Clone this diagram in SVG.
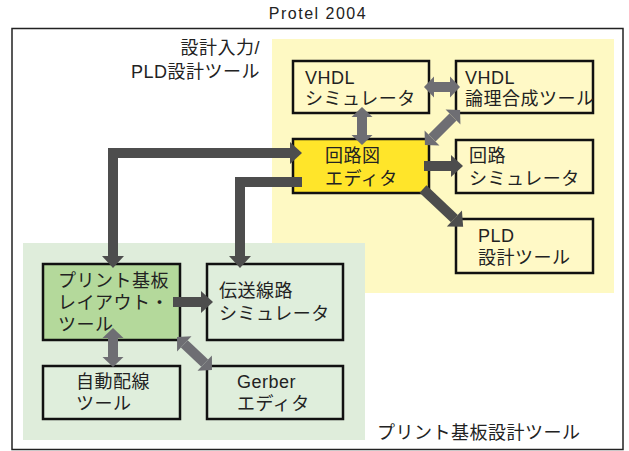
<svg xmlns="http://www.w3.org/2000/svg" width="629" height="451" viewBox="0 0 629 451">
<style>
text{font-family:"Liberation Sans","Noto Sans CJK JP",sans-serif;font-size:18px;fill:#222;letter-spacing:0.5px}
.box{stroke:#111;stroke-width:2.5}
.yb{fill:#FFF9C6}
.gb{fill:#DFEEDC}
.dk{fill:none;stroke:#4D4D4D;stroke-width:10;stroke-linejoin:miter}
.gr{fill:none;stroke:#6E6E73;stroke-width:10}
</style>
<defs>
<marker id="ad" markerUnits="userSpaceOnUse" markerWidth="12" markerHeight="22" refX="0" refY="11" orient="auto-start-reverse" overflow="visible"><path d="M0,0 L12,11 L0,22 Z" fill="#4D4D4D"/></marker>
<marker id="ag" markerUnits="userSpaceOnUse" markerWidth="10" markerHeight="21" refX="0" refY="10.5" orient="auto-start-reverse" overflow="visible"><path d="M0,0 L10,10.5 L0,21 Z" fill="#6E6E73"/></marker>
</defs>
<rect width="629" height="451" fill="#fff"/>
<text x="318" y="19" text-anchor="middle" style="font-size:16px;letter-spacing:1.5px">Protel 2004</text>
<rect x="12" y="28.5" width="611" height="421" fill="none" stroke="#222" stroke-width="1.5"/>
<rect x="272" y="39" width="342" height="254" fill="#FEF9C3"/>
<rect x="23" y="243" width="342" height="197" fill="#DFEDDB"/>
<text x="260" y="54" text-anchor="end">設計入力/</text>
<text x="260" y="78" text-anchor="end">PLD設計ツール</text>
<text x="377" y="439">プリント基板設計ツール</text>
<g id="vhdl-sim"><rect class="box yb" x="293" y="61" width="136" height="52"/><text x="305" y="84">VHDL</text><text x="305" y="105">シミュレータ</text></g>
<g id="vhdl-synth"><rect class="box yb" x="456" y="61" width="137" height="52"/><text x="465" y="84">VHDL</text><text x="465" y="105">論理合成ツール</text></g>
<g id="schematic"><rect class="box" fill="#FFE52A" x="293" y="139" width="136" height="54"/><text x="325" y="162">回路図</text><text x="325" y="185">エディタ</text></g>
<g id="circuit-sim"><rect class="box yb" x="456" y="140" width="137" height="53"/><text x="469" y="162">回路</text><text x="469" y="185">シミュレータ</text></g>
<g id="pld"><rect class="box yb" x="456" y="219" width="137" height="54"/><text x="478" y="242">PLD</text><text x="478" y="264">設計ツール</text></g>
<g id="pcb"><rect class="box" fill="#B4D99B" x="43" y="264" width="137" height="76"/><text x="58" y="287">プリント基板</text><text x="58" y="309">レイアウト・</text><text x="58" y="331">ツール</text></g>
<g id="tline"><rect class="box gb" x="207" y="264" width="136" height="76"/><text x="219" y="297">伝送線路</text><text x="219" y="320">シミュレータ</text></g>
<g id="autoroute"><rect class="box gb" x="43" y="366" width="137" height="53"/><text x="76" y="388">自動配線</text><text x="76" y="410">ツール</text></g>
<g id="gerber"><rect class="box gb" x="207" y="366" width="136" height="53"/><text x="237" y="388">Gerber</text><text x="237" y="410">エディタ</text></g>
<g id="connectors">
<path class="dk" d="M290,153 H113 V256" marker-start="url(#ad)" marker-end="url(#ad)"/>
<path class="dk" d="M302,182 H240 V256" marker-end="url(#ad)"/>
<path class="dk" d="M424,166 H451" marker-end="url(#ad)"/>
<path class="dk" d="M423,189 L454.4,218.6" marker-end="url(#ad)"/>
<path class="dk" d="M173,302 H201" marker-end="url(#ad)"/>
<path class="gr" d="M362,117 V135" marker-start="url(#ag)" marker-end="url(#ag)"/>
<path class="gr" d="M434,87 H450" marker-start="url(#ag)" marker-end="url(#ag)"/>
<path class="gr" d="M432,138 L453,117" marker-start="url(#ag)" marker-end="url(#ag)"/>
<path class="gr" d="M113,338 V357" marker-start="url(#ag)" marker-end="url(#ag)"/>
<path class="gr" d="M184.3,343.9 L204.7,363.1" marker-start="url(#ag)" marker-end="url(#ag)"/>
</g>
</svg>
